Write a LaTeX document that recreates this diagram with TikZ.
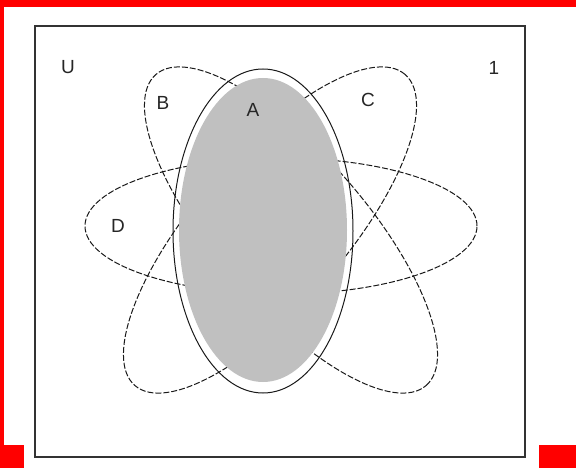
\documentclass[tikz,border=0pt]{standalone}
\usepackage{fontspec}
\setmainfont{Liberation Sans}
\usepackage{xcolor}
\usepackage{tikz}
\definecolor{framered}{HTML}{FF0000}
\definecolor{areagray}{HTML}{C0C0C0}

\begin{document}
\begin{tikzpicture}[
    x=1pt, y=-1pt,
    setline/.style={draw=black!90, line width=1pt},
    dashline/.style={setline, dash pattern=on 6pt off 2pt},
    redpart/.style={fill=framered, draw=none},
    lbl/.style={font=\fontsize{19}{19}\selectfont, text=black!85, inner sep=0pt},
]
\useasboundingbox (0,0) rectangle (576,468);

\fill[redpart] (0,0) rectangle (576,7);
\fill[redpart] (0,0) rectangle (3.5,445);
\fill[redpart] (0,445) rectangle (24,468);
\fill[redpart] (539,445) rectangle (576,468);

\draw[draw=black!80, line width=2pt] (35,26) rectangle (525,457);

\draw[dashline, shift={(281,226)}] (0,0) ellipse [x radius=196pt, y radius=68pt];
\draw[dashline, shift={(291,230)}, rotate=-49] (0,0) ellipse [x radius=206pt, y radius=75pt];
\draw[dashline, shift={(270,230)}, rotate=49] (0,0) ellipse [x radius=206pt, y radius=75pt];

\fill[areagray] (263,230) ellipse [x radius=84pt, y radius=152pt];
\draw[setline] (263,231) ellipse [x radius=90pt, y radius=162pt];

\node[lbl] (u) at (68,67) {U};
\node[lbl] (one) at (494,68) {1};
\node[lbl] (a) at (253,110) {A};
\node[lbl] (b) at (163,103) {B};
\node[lbl] (c) at (368,100) {C};
\node[lbl] (d) at (118,226) {D};

\end{tikzpicture}
\end{document}
